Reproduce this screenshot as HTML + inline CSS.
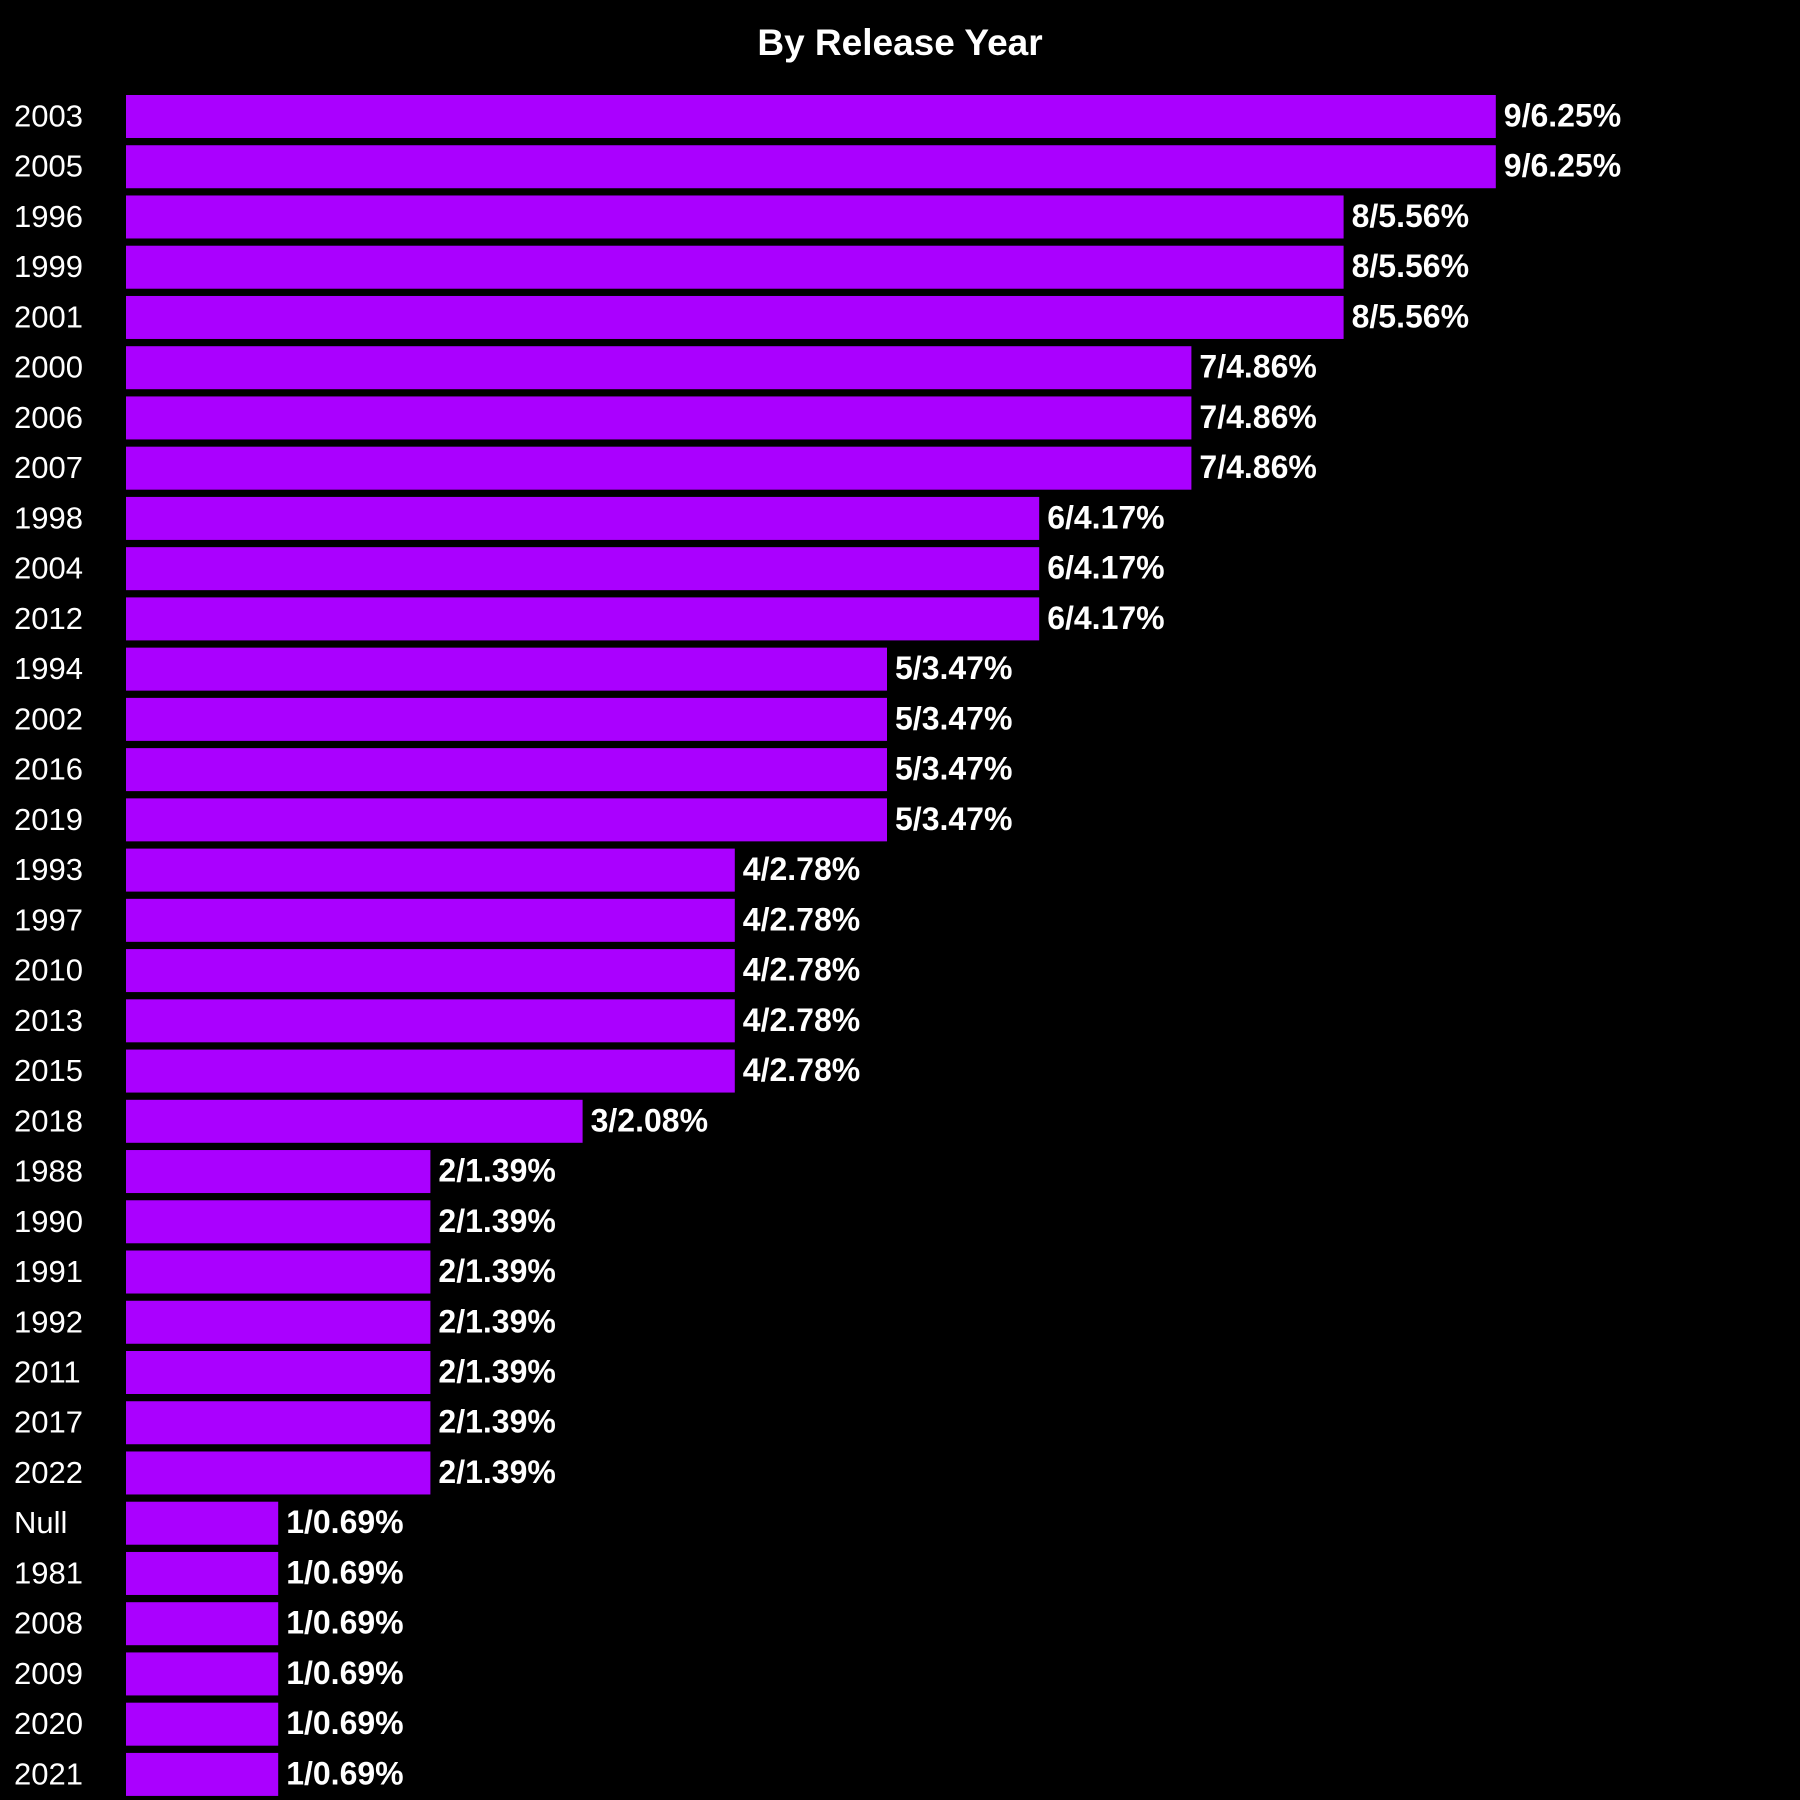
<!DOCTYPE html>
<html><head><meta charset="utf-8"><style>
html,body{margin:0;padding:0;background:#000;}
svg{display:block;}
</style></head><body>
<svg id="chart" width="1800" height="1800" xmlns="http://www.w3.org/2000/svg">
<rect width="1800" height="1800" fill="#000"/>
<text x="900" y="55" text-anchor="middle" font-family="Liberation Sans, sans-serif" font-weight="bold" font-size="37" fill="#fff">By Release Year</text>
<g id="bars"></g>
</svg>
<script>
const categories = ["2003","2005","1996","1999","2001","2000","2006","2007","1998","2004","2012","1994","2002","2016","2019","1993","1997","2010","2013","2015","2018","1988","1990","1991","1992","2011","2017","2022","Null","1981","2008","2009","2020","2021"];
const counts = [9,9,8,8,8,7,7,7,6,6,6,5,5,5,5,4,4,4,4,4,3,2,2,2,2,2,2,2,1,1,1,1,1,1];
const percents = ["6.25%","6.25%","5.56%","5.56%","5.56%","4.86%","4.86%","4.86%","4.17%","4.17%","4.17%","3.47%","3.47%","3.47%","3.47%","2.78%","2.78%","2.78%","2.78%","2.78%","2.08%","1.39%","1.39%","1.39%","1.39%","1.39%","1.39%","1.39%","0.69%","0.69%","0.69%","0.69%","0.69%","0.69%"];

const NS = "http://www.w3.org/2000/svg";
const g = document.getElementById('bars');
const x0 = 126, unit = 152.2;
const xScale = v => x0 + v * unit;
const yTop = 95, pitch = 50.24, barH = 43;
const yScale = i => yTop + i * pitch;

categories.forEach((c, i) => {
  const y = yScale(i);
  const r = document.createElementNS(NS, 'rect');
  
  
  r.setAttribute('x', x0);
  r.setAttribute('y', y);
  r.setAttribute('width', xScale(counts[i]) - x0);
  r.setAttribute('height', barH);
  r.setAttribute('fill', '#aa00ff');
  g.appendChild(r);

  const t = document.createElementNS(NS, 'text');
  
  
  t.setAttribute('x', 14);
  t.setAttribute('y', y + barH / 2 + 10);
  t.setAttribute('font-family', 'Liberation Sans, sans-serif');
  t.setAttribute('font-size', '31');
  t.setAttribute('fill', '#fff');
  t.textContent = c;
  g.appendChild(t);

  const v = document.createElementNS(NS, 'text');
  
  
  v.setAttribute('x', xScale(counts[i]) + 8);
  v.setAttribute('y', y + barH / 2 + 10);
  v.setAttribute('font-family', 'Liberation Sans, sans-serif');
  v.setAttribute('font-weight', 'bold');
  v.setAttribute('font-size', '32');
  v.setAttribute('fill', '#fff');
  v.textContent = counts[i] + '/' + percents[i];
  g.appendChild(v);
});
</script>
</body></html>
